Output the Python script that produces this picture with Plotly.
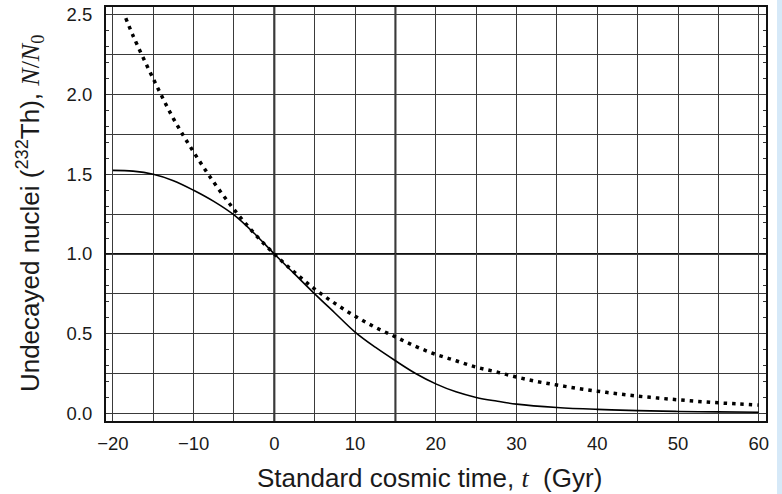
import plotly.graph_objects as go

# Solid curve
t_solid = [-20, -17.5, -15, -12.5, -10, -7.5, -5, -2.5, 0, 2.5, 5, 7.5, 10, 12.5, 15,
           17.5, 20, 22.5, 25, 27.5, 30, 35, 40, 45, 50, 55, 60]
n_solid = [1.525, 1.52, 1.50, 1.46, 1.40, 1.33, 1.245, 1.13, 1.00, 0.875, 0.75, 0.63,
           0.51, 0.415, 0.33, 0.25, 0.185, 0.135, 0.10, 0.077, 0.058, 0.037, 0.025,
           0.017, 0.012, 0.009, 0.007]

# Dotted curve
t_dot = [-18.4, -17.5, -15, -12.5, -10, -7.5, -5, -2.5, 0, 2.5, 5, 7.5, 10, 12.5, 15,
         17.5, 20, 22.5, 25, 27.5, 30, 32.5, 35, 37.5, 40, 42.5, 45, 47.5, 50, 52.5,
         55, 57.5, 60]
n_dot = [2.48, 2.37, 2.10, 1.85, 1.64, 1.45, 1.28, 1.13, 1.00, 0.885, 0.78, 0.69, 0.61,
         0.54, 0.48, 0.42, 0.37, 0.33, 0.29, 0.26, 0.228, 0.20, 0.178, 0.157, 0.139,
         0.123, 0.108, 0.096, 0.085, 0.075, 0.066, 0.059, 0.052]

x_range = [-20.85, 60.9]
y_range = [-0.048, 2.55]

x_title = "Standard cosmic time, <span style='font-family:Liberation Serif'><i>t</i></span>\u00a0\u00a0(Gyr)"
y_title = "Undecayed nuclei (<sup>232</sup>Th), <span style='font-family:Liberation Serif'><i>N</i>/<i>N</i><sub>0</sub></span>"

fig = go.Figure()
fig.add_trace(go.Scatter(x=t_solid, y=n_solid, mode="lines", line=dict(color="black", width=1.6, shape="spline"),
                         showlegend=False, hoverinfo="skip"))
fig.add_trace(go.Scatter(x=t_dot, y=n_dot, mode="lines",
                         line=dict(color="black", width=3.5, shape="spline", dash="3.5px,5px"),
                         showlegend=False, hoverinfo="skip"))
fig.add_trace(go.Scatter(x=[None], y=[None], yaxis="y2", showlegend=False, hoverinfo="skip"))

grid_col = "#3a3a3a"
fig.update_layout(
    width=782, height=494,
    margin=dict(l=106, r=16, t=7, b=73, autoexpand=False),
    paper_bgcolor="white", plot_bgcolor="white",
    font=dict(family="Liberation Sans, Arial, sans-serif", color="#1a1a1a"),
    xaxis=dict(range=x_range, tickmode="linear", tick0=0, dtick=10, automargin=False,
               showgrid=True, gridcolor=grid_col, gridwidth=1,
               minor=dict(dtick=5, tick0=0, showgrid=True, gridcolor=grid_col, gridwidth=1),
               zeroline=False, showline=True, linecolor="#111", linewidth=2, mirror=True,
               ticks="outside", ticklen=5, tickcolor="rgba(0,0,0,0)",
               tickfont=dict(size=18.5)),
    yaxis=dict(range=y_range, tickmode="linear", tick0=0, dtick=0.5, tickformat=".1f",
               automargin=False,
               showgrid=True, gridcolor=grid_col, gridwidth=1,
               minor=dict(dtick=0.25, tick0=0, showgrid=True, gridcolor=grid_col, gridwidth=1),
               zeroline=False, showline=True, linecolor="#111", linewidth=2, mirror=True,
               ticks="outside", ticklen=8, tickcolor="rgba(0,0,0,0)",
               tickfont=dict(size=18.5)),
    yaxis2=dict(range=y_range, overlaying="y", tickmode="linear", tick0=0, dtick=0.1,
                ticks="inside", ticklen=3, tickcolor="#333", showticklabels=False, automargin=False,
                showgrid=False, zeroline=False, mirror="ticks", side="left"),
    shapes=[
        dict(type="line", xref="x", yref="paper", x0=0, x1=0, y0=0, y1=1, line=dict(color="#111", width=2), layer="below"),
        dict(type="line", xref="x", yref="paper", x0=15, x1=15, y0=0, y1=1, line=dict(color="#222", width=2), layer="below"),
        dict(type="line", xref="paper", yref="y", x0=0, x1=1, y0=1, y1=1, line=dict(color="#111", width=2), layer="below"),
        dict(type="rect", xref="paper", yref="paper", x0=1.0167, x1=1.05, y0=-0.3, y1=1.05,
             fillcolor="#d6e9f8", line=dict(width=0)),
    ],
    annotations=[
        dict(text=x_title, xref="paper", yref="paper", x=0.49, y=-0.1377, xanchor="center", yanchor="middle",
             showarrow=False, font=dict(size=26)),
        dict(text=y_title, xref="paper", yref="paper", x=-0.115, y=0.5, xanchor="center", yanchor="middle",
             textangle=-90, showarrow=False, font=dict(size=26)),
    ],
)

fig.write_html("out.html", config={"displayModeBar": False},
               post_script="document.body.style.margin='0';")
